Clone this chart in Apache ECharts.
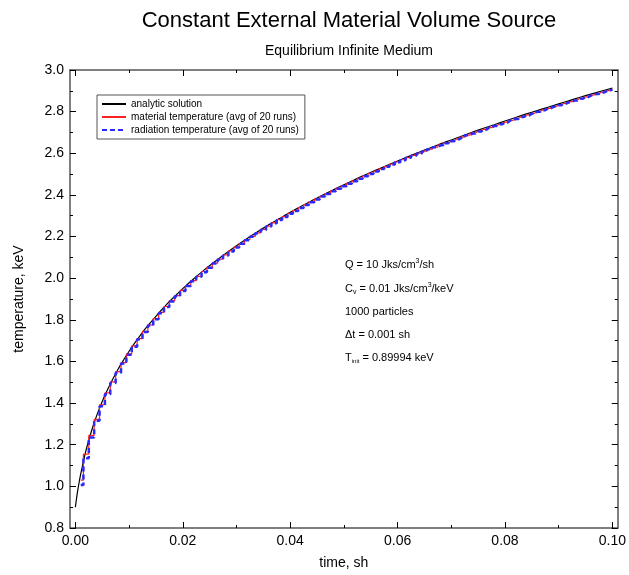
<!DOCTYPE html>
<html>
<head>
<meta charset="utf-8">
<script src="https://cdn.jsdelivr.net/npm/echarts@6/dist/echarts.min.js"></script>
<style>
  html, body { margin: 0; padding: 0; background: #fff; }
  #chart { width: 629px; height: 575px; }
</style>
</head>
<body>
<div id="chart"></div>
<script>
// analytic solution
var analyticT = [0, 0.00025, 0.0005, 0.00075, 0.001, 0.002, 0.003, 0.004, 0.005, 0.006, 0.007, 0.008, 0.009, 0.010,
    0.011, 0.012, 0.013, 0.014, 0.015, 0.016, 0.017, 0.018, 0.019, 0.020,
    0.022, 0.024, 0.026, 0.028, 0.030, 0.032, 0.034, 0.036, 0.038, 0.040,
    0.042, 0.044, 0.046, 0.048, 0.050, 0.052, 0.054, 0.056, 0.058, 0.060,
    0.062, 0.064, 0.066, 0.068, 0.070, 0.072, 0.074, 0.076, 0.078, 0.080,
    0.082, 0.084, 0.086, 0.088, 0.090, 0.092, 0.094, 0.096, 0.098, 0.100];
var analyticV = [0.900, 0.948, 0.990, 1.026, 1.060, 1.175, 1.266, 1.342, 1.408, 1.465, 1.517, 1.565, 1.608, 1.649,
    1.687, 1.722, 1.756, 1.787, 1.817, 1.846, 1.874, 1.900, 1.925, 1.950,
    1.996, 2.040, 2.080, 2.119, 2.156, 2.191, 2.224, 2.256, 2.286, 2.316,
    2.344, 2.372, 2.398, 2.424, 2.449, 2.473, 2.497, 2.519, 2.541, 2.563,
    2.584, 2.605, 2.625, 2.645, 2.664, 2.683, 2.702, 2.720, 2.737, 2.755,
    2.772, 2.789, 2.805, 2.821, 2.837, 2.853, 2.869, 2.884, 2.899, 2.913];

// Monte Carlo tallies, one per time step of 0.001 sh (0.001 ... 0.100)
var mcTime = [0.001, 0.002, 0.003, 0.004, 0.005, 0.006, 0.007, 0.008, 0.009, 0.010,
    0.011, 0.012, 0.013, 0.014, 0.015, 0.016, 0.017, 0.018, 0.019, 0.020,
    0.021, 0.022, 0.023, 0.024, 0.025, 0.026, 0.027, 0.028, 0.029, 0.030,
    0.031, 0.032, 0.033, 0.034, 0.035, 0.036, 0.037, 0.038, 0.039, 0.040,
    0.041, 0.042, 0.043, 0.044, 0.045, 0.046, 0.047, 0.048, 0.049, 0.050,
    0.051, 0.052, 0.053, 0.054, 0.055, 0.056, 0.057, 0.058, 0.059, 0.060,
    0.061, 0.062, 0.063, 0.064, 0.065, 0.066, 0.067, 0.068, 0.069, 0.070,
    0.071, 0.072, 0.073, 0.074, 0.075, 0.076, 0.077, 0.078, 0.079, 0.080,
    0.081, 0.082, 0.083, 0.084, 0.085, 0.086, 0.087, 0.088, 0.089, 0.090,
    0.091, 0.092, 0.093, 0.094, 0.095, 0.096, 0.097, 0.098, 0.099, 0.100];
var materialTemp = [1.030, 1.155, 1.245, 1.322, 1.392, 1.449, 1.502, 1.551, 1.594, 1.636,
    1.675, 1.710, 1.745, 1.776, 1.806, 1.836, 1.864, 1.891, 1.916, 1.941,
    1.964, 1.988, 2.009, 2.032, 2.052, 2.072, 2.092, 2.112, 2.131, 2.149,
    2.166, 2.185, 2.201, 2.218, 2.234, 2.250, 2.266, 2.281, 2.296, 2.311,
    2.325, 2.339, 2.353, 2.367, 2.380, 2.393, 2.406, 2.419, 2.431, 2.444,
    2.456, 2.468, 2.480, 2.492, 2.503, 2.514, 2.525, 2.536, 2.548, 2.558,
    2.569, 2.579, 2.590, 2.600, 2.610, 2.620, 2.630, 2.640, 2.650, 2.659,
    2.668, 2.678, 2.687, 2.697, 2.706, 2.715, 2.723, 2.732, 2.741, 2.750,
    2.758, 2.767, 2.775, 2.784, 2.792, 2.800, 2.808, 2.816, 2.824, 2.832,
    2.840, 2.848, 2.856, 2.864, 2.871, 2.879, 2.886, 2.894, 2.901, 2.908];
var radiationTemp = [1.007, 1.135, 1.235, 1.315, 1.385, 1.443, 1.496, 1.546, 1.590, 1.632,
    1.671, 1.707, 1.741, 1.773, 1.803, 1.832, 1.861, 1.888, 1.913, 1.938,
    1.962, 1.985, 2.007, 2.029, 2.050, 2.070, 2.090, 2.109, 2.128, 2.147,
    2.165, 2.182, 2.199, 2.216, 2.232, 2.248, 2.264, 2.279, 2.294, 2.309,
    2.323, 2.337, 2.351, 2.365, 2.378, 2.392, 2.404, 2.417, 2.430, 2.442,
    2.454, 2.466, 2.478, 2.490, 2.501, 2.513, 2.524, 2.535, 2.546, 2.557,
    2.567, 2.578, 2.588, 2.598, 2.609, 2.619, 2.629, 2.638, 2.648, 2.658,
    2.667, 2.676, 2.686, 2.695, 2.704, 2.713, 2.722, 2.731, 2.739, 2.748,
    2.757, 2.765, 2.774, 2.782, 2.790, 2.799, 2.807, 2.815, 2.823, 2.831,
    2.839, 2.846, 2.854, 2.862, 2.870, 2.877, 2.885, 2.892, 2.900, 2.907];

var xMajor = [0, 0.02, 0.04, 0.06, 0.08, 0.1];
var xMinor = [0.01, 0.03, 0.05, 0.07, 0.09];

function pairs(xs, ys) {
    return xs.map(function (x, i) { return [x, ys[i]]; });
}

var FONT = 'Liberation Sans, Arial, Helvetica, sans-serif';
var frameColor = '#555';

function xAx(pos, ticks, len, labels, line) {
    return {
        type: 'value', position: pos, min: -0.001, max: 0.101,
        axisLine: {show: line, onZero: false, lineStyle: {color: frameColor, width: 1.5}},
        axisTick: {show: true, inside: true, length: len, customValues: ticks,
            lineStyle: {color: '#000', width: 1}},
        axisLabel: labels ? {show: true, customValues: xMajor, fontSize: 14, color: '#000', fontFamily: FONT,
            margin: 6, formatter: function (v) { return v.toFixed(2); }} : {show: false},
        splitLine: {show: false},
        name: labels ? 'time, sh' : '',
        nameLocation: 'middle', nameGap: 28,
        nameTextStyle: {fontSize: 14, color: '#000', fontFamily: FONT}
    };
}

function yAx(pos, labels) {
    return {
        type: 'value', position: pos, min: 0.8, max: 3.0, interval: 0.2,
        axisLine: {show: true, onZero: false, lineStyle: {color: frameColor, width: 1.5}},
        axisTick: {show: true, inside: true, length: 6, lineStyle: {color: '#000'}},
        minorTick: {show: true, splitNumber: 2, length: 3, lineStyle: {color: '#000'}},
        axisLabel: labels ? {show: true, fontSize: 14, color: '#000', fontFamily: FONT, margin: 6,
            formatter: function (v) { return v.toFixed(1); }} : {show: false},
        splitLine: {show: false},
        name: labels ? 'temperature, keV' : '',
        nameLocation: 'middle', nameGap: 44,
        nameTextStyle: {fontSize: 14, color: '#000', fontFamily: FONT}
    };
}

var option = {
    backgroundColor: '#fff',
    animation: false,
    title: [
        {text: 'Constant External Material Volume Source', left: 344, top: 5, textAlign: 'center',
            textStyle: {fontSize: 22, fontWeight: 'normal', color: '#000', fontFamily: FONT}},
        {text: 'Equilibrium Infinite Medium', left: 344, top: 39, textAlign: 'center',
            textStyle: {fontSize: 14, fontWeight: 'normal', color: '#000', fontFamily: FONT}}
    ],
    grid: {left: 70, right: 10, top: 70, bottom: 45, containLabel: false},
    legend: {
        orient: 'vertical', left: 97, top: 95,
        padding: [4, 6, 4, 4], itemGap: 3, itemWidth: 24, itemHeight: 10,
        borderColor: '#555', borderWidth: 1, backgroundColor: '#fff',
        itemStyle: {opacity: 0},
        textStyle: {fontSize: 10, color: '#000', fontFamily: FONT},
        data: ['analytic solution', 'material temperature (avg of 20 runs)', 'radiation temperature (avg of 20 runs)']
    },
    xAxis: [
        xAx('bottom', xMajor, 6, true, true),
        xAx('bottom', xMinor, 3, false, false),
        xAx('top', xMajor, 6, false, true),
        xAx('top', xMinor, 3, false, false)
    ],
    yAxis: [
        yAx('left', true),
        yAx('right', false)
    ],
    graphic: [
        {type: 'text', left: 345, top: 258, style: {
            text: 'Q = 10 Jks/cm{sup|3}/sh', fill: '#000', font: '11px ' + FONT,
            rich: {sup: {fontSize: 7, verticalAlign: 'top', lineHeight: 14}}}},
        {type: 'text', left: 345, top: 282, style: {
            text: 'C{sub|v} = 0.01 Jks/cm{sup|3}/keV', fill: '#000', font: '11px ' + FONT,
            rich: {sup: {fontSize: 7, verticalAlign: 'top', lineHeight: 14},
                sub: {fontSize: 7, verticalAlign: 'bottom', lineHeight: 14}}}},
        {type: 'text', left: 345, top: 306, style: {
            text: '1000 particles', fill: '#000', font: '11px ' + FONT}},
        {type: 'text', left: 345, top: 329, style: {
            text: '\u0394t = 0.001 sh', fill: '#000', font: '11px ' + FONT}},
        {type: 'text', left: 345, top: 352, style: {
            text: 'T{sub|init} = 0.89994 keV', fill: '#000', font: '11px ' + FONT,
            rich: {sub: {fontSize: 6, verticalAlign: 'bottom', lineHeight: 14}}}}
    ],
    series: [
        {
            name: 'analytic solution', type: 'line', showSymbol: false, symbol: 'none',
            data: pairs(analyticT, analyticV), smooth: 0.3,
            lineStyle: {color: '#000', width: 1.2}, itemStyle: {color: '#000'}, z: 2
        },
        {
            name: 'material temperature (avg of 20 runs)', type: 'line', symbol: 'none',
            step: 'middle', data: pairs(mcTime, materialTemp),
            lineStyle: {color: '#ff2020', width: 1.2}, itemStyle: {color: '#ff2020'}, z: 3
        },
        {
            name: 'radiation temperature (avg of 20 runs)', type: 'line', symbol: 'none',
            step: 'middle', data: pairs(mcTime, radiationTemp),
            lineStyle: {color: '#2a2aff', width: 2.5, type: [5, 3]}, itemStyle: {color: '#2a2aff'}, z: 4
        }
    ]
};

var chart = echarts.init(document.getElementById('chart'));
chart.setOption(option);
</script>
</body>
</html>
